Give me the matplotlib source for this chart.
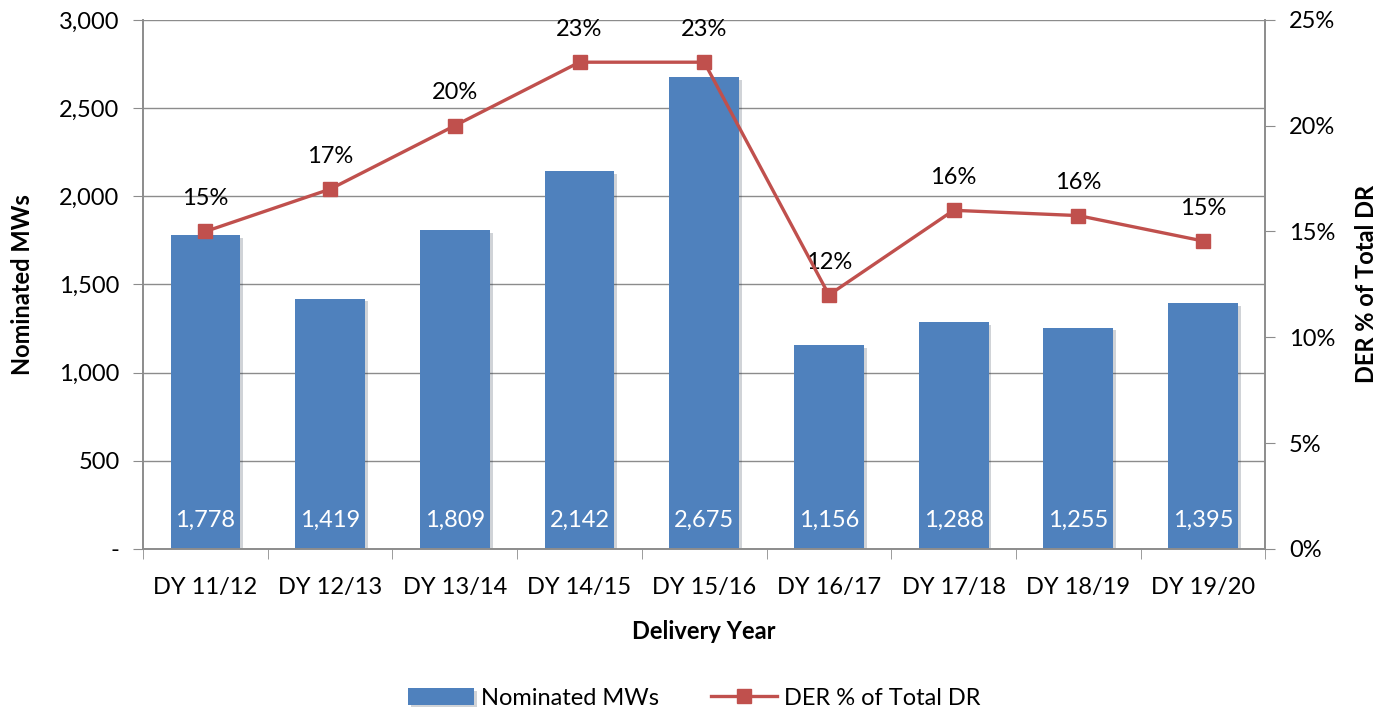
import numpy as np
import matplotlib.pyplot as plt
from matplotlib.ticker import FuncFormatter, MultipleLocator, FixedLocator
import matplotlib.patheffects as pe

plt.rcParams['font.family'] = ['Lato', 'DejaVu Sans']

years = ['DY 11/12', 'DY 12/13', 'DY 13/14', 'DY 14/15', 'DY 15/16',
         'DY 16/17', 'DY 17/18', 'DY 18/19', 'DY 19/20']
nominated_mw = [1778, 1419, 1809, 2142, 2675, 1156, 1288, 1255, 1395]
der_pct = [15.0, 17.0, 20.0, 23.0, 23.0, 12.0, 16.0, 15.75, 14.55]

bar_color = '#4F81BD'
line_color = '#C0504D'
grid_color = '#8C8C8C'
fs = 17

fig = plt.figure(figsize=(13.89, 7.10), dpi=100)
ax = fig.add_axes([0.103, 0.227, 0.808, 0.745])
ax2 = ax.twinx()

x = np.arange(len(years))
bars = ax.bar(x, nominated_mw, width=0.56, color=bar_color, zorder=2,
              label='Nominated MWs',
              path_effects=[pe.SimplePatchShadow(offset=(2, -2), alpha=0.2), pe.Normal()])
for xi, v in zip(x, nominated_mw):
    ax.text(xi, 100, f'{v:,}', color='white', ha='center', va='bottom', fontsize=fs, zorder=3)

ax.set_xlim(-0.5, len(years) - 0.5)
ax.set_ylim(0, 3000)
ax.yaxis.set_major_locator(MultipleLocator(500))
ax.yaxis.set_major_formatter(FuncFormatter(lambda v, p: '-' if v == 0 else f'{v:,.0f}'))
ax.grid(axis='y', color=grid_color, linewidth=1, zorder=0)
ax.set_axisbelow(True)
ax.set_xticks(x)
ax.set_xticklabels(years)
ax.xaxis.set_minor_locator(FixedLocator(np.arange(-0.5, len(years), 1.0)))
ax.tick_params(axis='x', which='major', length=0, pad=20, labelsize=fs)
ax.tick_params(axis='x', which='minor', length=7, color=grid_color)
ax.tick_params(axis='y', length=7, color=grid_color, labelsize=fs, pad=10)
ax.set_xlabel('Delivery Year', fontsize=fs, fontweight='bold', labelpad=16)
ax.set_ylabel('Nominated MWs', fontsize=fs, fontweight='bold', labelpad=18)

line, = ax2.plot(x, der_pct, color=line_color, linewidth=2.4, marker='s',
                 markersize=10, label='DER % of Total DR', zorder=4)
for xi, v in zip(x, der_pct):
    ax2.annotate(f'{v:.0f}%', (xi, v), xytext=(0, 16), textcoords='offset points',
                 ha='center', va='bottom', fontsize=fs)
ax2.set_ylim(0, 25)
ax2.yaxis.set_major_locator(MultipleLocator(5))
ax2.yaxis.set_major_formatter(FuncFormatter(lambda v, p: f'{v:.0f}%'))
ax2.tick_params(axis='y', length=7, color=grid_color, labelsize=fs, pad=10)
ax2.set_ylabel('DER % of Total DR', fontsize=fs, fontweight='bold', labelpad=14)

for a in (ax, ax2):
    a.spines['top'].set_visible(False)
    for s in ('left', 'right', 'bottom'):
        a.spines[s].set_color(grid_color)
        a.spines[s].set_linewidth(1.2)

fig.legend([bars, line], ['Nominated MWs', 'DER % of Total DR'], loc='lower center',
           bbox_to_anchor=(0.5, -0.028), ncol=2, frameon=False, fontsize=fs,
           handlelength=2.8, handletextpad=0.3, columnspacing=2.2)

fig.savefig('out.png', dpi=100)
